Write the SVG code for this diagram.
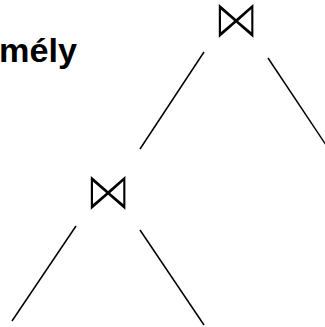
<svg xmlns="http://www.w3.org/2000/svg" width="325" height="327" viewBox="0 0 325 327">
  <style>
    .label { font-family: "Liberation Sans", Arial, sans-serif; font-weight: bold; font-size: 33px; fill: #000; }
    /* join operator: stretched vertically, white stroke thins the glyph lines */
    .join { font-family: "DejaVu Sans", sans-serif; font-size: 46px; fill: #000; stroke: #fff; stroke-width: 1.6; text-anchor: middle; }
    .edge { stroke: #000; stroke-width: 1.5; fill: none; }
  </style>
  <rect width="325" height="327" fill="#fff"/>
  <g id="relation-label">
    <text class="label" x="-1" y="62" textLength="78" lengthAdjust="spacingAndGlyphs">mély</text>
  </g>
  <g id="join-top">
    <text class="join" transform="translate(236,38) scale(1,1.19)">⋈</text>
  </g>
  <g id="join-bottom">
    <text class="join" transform="translate(108,210) scale(1,1.19)">⋈</text>
  </g>
  <g id="connectors">
    <line class="edge" x1="204" y1="52" x2="140" y2="149"/>
    <line class="edge" x1="268" y1="58" x2="326" y2="145"/>
    <line class="edge" x1="76" y1="226" x2="12" y2="321"/>
    <line class="edge" x1="140" y1="230" x2="204" y2="325"/>
  </g>
</svg>
